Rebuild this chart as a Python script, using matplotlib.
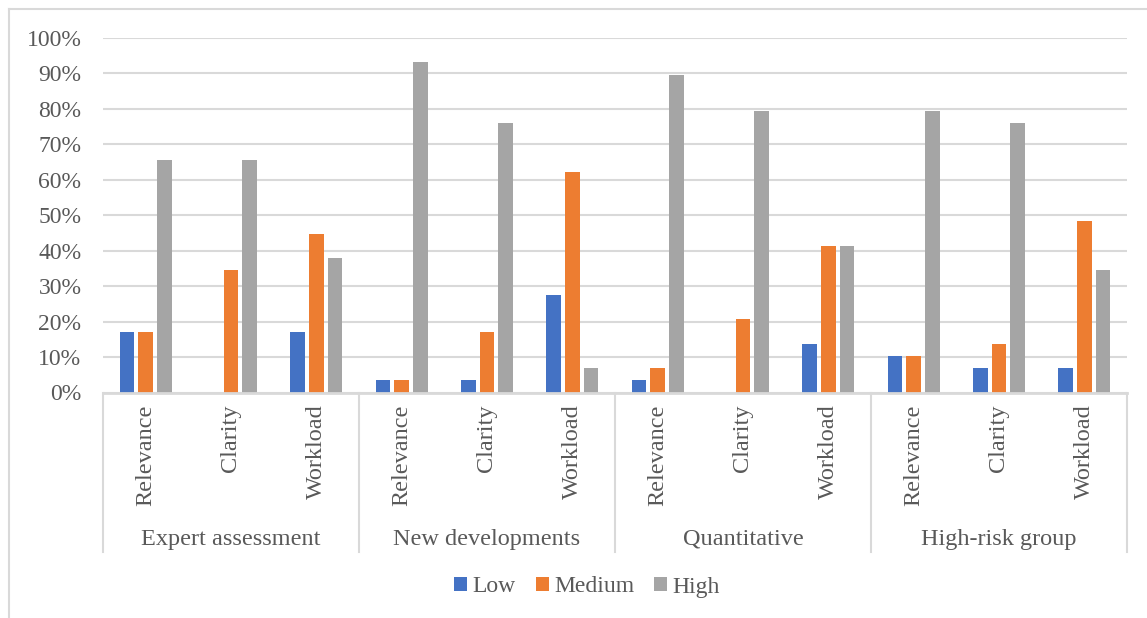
import matplotlib
matplotlib.use("Agg")
import matplotlib.pyplot as plt
from matplotlib.lines import Line2D
from matplotlib.patches import Patch
import numpy as np

plt.rcParams["font.family"] = ["Liberation Serif", "DejaVu Serif"]

groups = ["Expert assessment", "New developments", "Quantitative", "High-risk group"]
criteria = ["Relevance", "Clarity", "Workload"]
series = ["Low", "Medium", "High"]

# Percentages per (group, criterion), in the order of `groups` x `criteria`
low = [17.2, 0.0, 17.2, 3.4, 3.4, 27.6, 3.4, 0.0, 13.8, 10.3, 6.9, 6.9]
medium = [17.2, 34.5, 44.8, 3.4, 17.2, 62.1, 6.9, 20.7, 41.4, 10.3, 13.8, 48.3]
high = [65.5, 65.5, 37.9, 93.1, 75.9, 6.9, 89.7, 79.3, 41.4, 79.3, 75.9, 34.5]

colors = ["#4472C4", "#ED7D31", "#A5A5A5"]
text_color = "#595959"
line_color = "#D9D9D9"
fs = 17.5

W, H = 1147, 618
fig = plt.figure(figsize=(W / 100, H / 100), dpi=100)

# chart frame (top and left edges)
fig.add_artist(Line2D([9 / W, 1.0], [1 - 9 / H, 1 - 9 / H], color=line_color, lw=1.5))
fig.add_artist(Line2D([9 / W, 9 / W], [0, 1 - 9 / H], color=line_color, lw=1.5))

ax_left, ax_right = 103 / W, 1127 / W
ax_bottom, ax_top = (H - 392.5) / H, (H - 38) / H
ax = fig.add_axes([ax_left, ax_bottom, ax_right - ax_left, ax_top - ax_bottom])
ax_h_px = (ax_top - ax_bottom) * H

n = len(groups) * len(criteria)
x = np.arange(n)
pitch = 0.219
width = 0.17
for k, (vals, c, name) in enumerate(zip([low, medium, high], colors, series)):
    ax.bar(x + (k - 1) * pitch, np.array(vals) / 100.0, width=width, color=c,
           label=name, zorder=3)

ax.set_xlim(-0.5, n - 0.5)
ax.set_ylim(0, 1.0)
ax.set_yticks(np.arange(0, 1.01, 0.1))
ax.set_yticklabels([f"{int(round(v * 100))}%" for v in np.arange(0, 1.01, 0.1)])
ax.yaxis.grid(True, color=line_color, lw=1.5, zorder=0)
ax.tick_params(axis="y", length=0, pad=15.5, labelsize=17, labelcolor=text_color)
ax.set_xticks([])
for s in ["top", "right", "left"]:
    ax.spines[s].set_visible(False)
ax.spines["bottom"].set_color(line_color)
ax.spines["bottom"].set_linewidth(2.0)
ax.spines["bottom"].set_zorder(4)

xt = ax.get_xaxis_transform()
# criterion labels
for i in range(n):
    ax.text(x[i], -12 / ax_h_px, criteria[i % len(criteria)], rotation=90,
            ha="center", va="top", fontsize=fs, color=text_color, transform=xt)
# group labels and separators
for g, name in enumerate(groups):
    cx = g * len(criteria) + (len(criteria) - 1) / 2
    ax.text(cx, -(539 - 392.5) / ax_h_px, name, ha="center", va="center",
            fontsize=fs, color=text_color, transform=xt)
for g in range(len(groups) + 1):
    xs = g * len(criteria) - 0.5
    ax.add_line(Line2D([xs, xs], [0, -(552 - 392.5) / ax_h_px], transform=xt,
                       color=line_color, lw=1.5, clip_on=False))

handles = [Patch(facecolor=c, edgecolor="none", label=s) for c, s in zip(colors, series)]
leg = fig.legend(handles=handles, loc="center", bbox_to_anchor=(587 / W, (H - 587) / H),
                 ncol=3, frameon=False, fontsize=17, handlelength=0.55,
                 handleheight=0.55, handletextpad=0.22, columnspacing=0.85)
for t in leg.get_texts():
    t.set_color(text_color)

fig.savefig("out.png", dpi=100, facecolor="white")
